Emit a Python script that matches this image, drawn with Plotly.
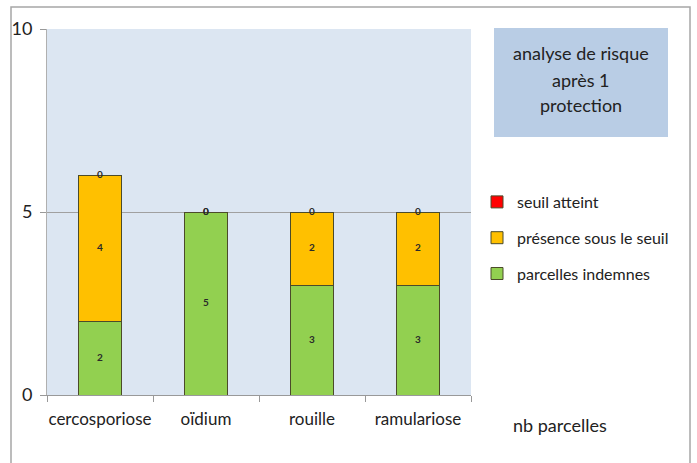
import plotly.graph_objects as go

categories = ["cercosporiose", "oïdium", "rouille", "ramulariose"]
indemnes = [2, 5, 3, 3]
presence = [4, 0, 2, 2]
seuil = [0, 0, 0, 0]
yticks = [0, 5, 10]
title_lines = ["analyse de risque", "après 1", "protection"]

W, H = 697, 463
L, R, T, B = 47, 471, 29, 395
ml, mr, mt, mb = L, W - R, T, H - B
pw, ph = R - L, B - T

def px(x):
    return (x - L) / pw

def py(y):
    return (B - y) / ph

FONT = "Lato"
line_col = "#4b4b2a"

fig = go.Figure()
series = [
    ("parcelles indemnes", indemnes, "#92d050", 3),
    ("présence sous le seuil", presence, "#ffc000", 2),
    ("seuil atteint", seuil, "#ff0000", 1),
]
for name, vals, col, rank in series:
    fig.add_trace(go.Bar(
        x=categories, y=vals, name=name, width=0.4,
        marker=dict(color=col, line=dict(color=line_col, width=1)),
        legendgroup=name, legendrank=rank,
    ))

# value labels (centre of each segment), computed from the data
base = [0] * len(categories)
for name, vals, col, rank in series:
    ys = [b + v / 2 for b, v in zip(base, vals)]
    fig.add_trace(go.Scatter(
        x=categories, y=ys, mode="text", text=[str(v) for v in vals],
        textfont=dict(family=FONT, size=10, color="#2a2a2a", weight="bold"),
        showlegend=False, hoverinfo="skip",
    ))
    base = [b + v for b, v in zip(base, vals)]

title_y = [53, 80, 105]
annotations = [
    dict(xref="paper", yref="paper", x=px(581), y=py(yy), text=t,
         showarrow=False, font=dict(family=FONT, size=18, color="#222222"),
         xanchor="center", yanchor="middle")
    for t, yy in zip(title_lines, title_y)
]
annotations.append(
    dict(xref="paper", yref="paper", x=px(560), y=py(425),
         text="nb parcelles", showarrow=False,
         font=dict(family=FONT, size=18, color="#222222"),
         xanchor="center", yanchor="middle"))

fig.update_layout(
    width=W, height=H,
    margin=dict(l=ml, r=mr, t=mt, b=mb),
    barmode="stack",
    paper_bgcolor="white",
    plot_bgcolor="#dce6f2",
    font=dict(family=FONT, color="#222222"),
    legend=dict(
        x=px(477), y=py(185), xanchor="left", yanchor="top",
        font=dict(family=FONT, size=16, color="#222222"),
        tracegroupgap=12, itemwidth=30, bgcolor="rgba(0,0,0,0)",
        traceorder="grouped",
    ),
    xaxis=dict(
        type="category", tickson="boundaries", ticks="outside", ticklen=6,
        tickcolor="#999999", showline=True, linecolor="#999999",
        showgrid=False, ticklabelstandoff=9, tickangle=0, automargin=False,
        tickfont=dict(family=FONT, size=17, color="#222222"),
    ),
    yaxis=dict(
        range=[0, 10], tickvals=yticks, ticks="outside", ticklen=6,
        tickcolor="#999999", showline=True, linecolor="#b0b0b0",
        gridcolor="#a0a0a0", gridwidth=1, zeroline=False,
        ticklabelstandoff=4, automargin=False,
        tickfont=dict(family=FONT, size=18, color="#222222"),
    ),
    shapes=[
        dict(type="rect", xref="paper", yref="paper",
             x0=px(11), x1=px(690), y0=py(7), y1=py(470),
             line=dict(color="#a6a6a6", width=1.5), fillcolor="rgba(0,0,0,0)",
             layer="below"),
        dict(type="rect", xref="paper", yref="paper",
             x0=px(494), x1=px(668), y0=py(28), y1=py(137),
             line=dict(width=0), fillcolor="#b9cde5"),
    ],
    annotations=annotations,
)

fig.write_html("out.html", post_script="document.body.style.margin='0';",
               config={"displayModeBar": False})
